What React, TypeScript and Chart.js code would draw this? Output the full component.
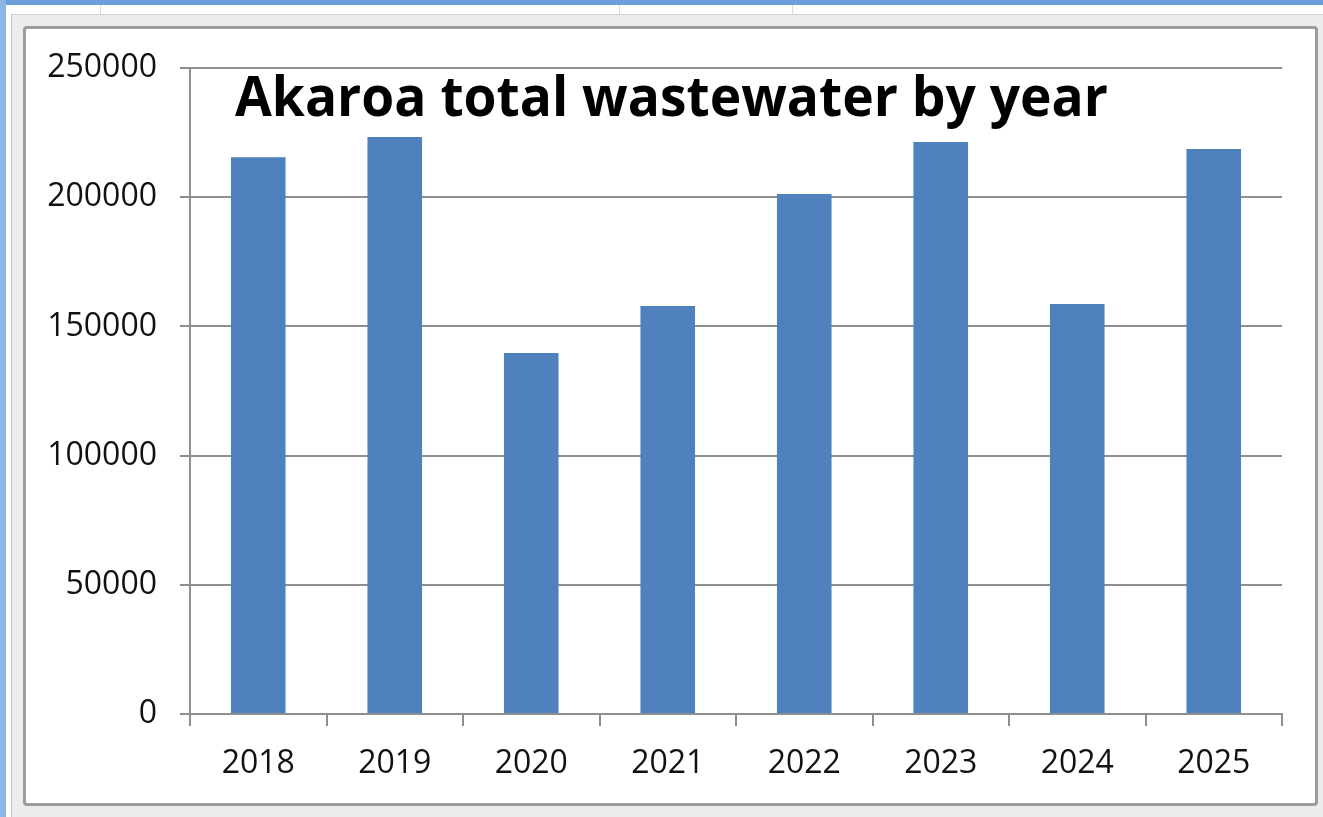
import React, { useEffect, useRef } from "react";
import { Chart, registerables } from "chart.js";

Chart.register(...registerables);

const TITLE = "Akaroa total wastewater by year";
const categories = ["2018", "2019", "2020", "2021", "2022", "2023", "2024", "2025"];
const totals = [215500, 223300, 139700, 157900, 201200, 221400, 158700, 218700];
const yMin = 0;
const yMax = 250000;
const yStep = 50000;

const W = 1323;
const H = 817;
const FONT = '"Open Sans", "Noto Sans", sans-serif';
const GRID = "#8e8e8e";

const titlePlugin = {
  id: "overlayTitle",
  afterDraw(chart: any) {
    const { ctx, chartArea } = chart;
    ctx.save();
    ctx.font = `bold 56px ${FONT}`;
    const w = ctx.measureText(TITLE).width;
    const target = 873;
    ctx.translate(chartArea.left + 45, chartArea.top + 48);
    ctx.scale(target / w, 1);
    ctx.fillStyle = "#000";
    ctx.textBaseline = "alphabetic";
    ctx.textAlign = "left";
    ctx.fillText(TITLE, 0, 0);
    ctx.restore();
  },
};

export default function App() {
  const ref = useRef<HTMLCanvasElement | null>(null);

  useEffect(() => {
    if (!ref.current) return;
    const chart = new Chart(ref.current, {
      type: "bar",
      data: {
        labels: categories,
        datasets: [
          {
            data: totals,
            backgroundColor: "#4f81bd",
            borderWidth: 0,
            barPercentage: 0.4,
            categoryPercentage: 1,
          },
        ],
      },
      options: {
        animation: false,
        responsive: false,
        devicePixelRatio: 1,
        layout: { padding: { left: 0, top: 68, right: 41, bottom: 0 } },
        plugins: {
          legend: { display: false },
          title: { display: false },
          tooltip: { enabled: false },
        },
        scales: {
          x: {
            grid: {
              display: true,
              drawOnChartArea: false,
              drawTicks: true,
              tickLength: 12,
              offset: true,
              color: GRID,
              lineWidth: 2,
            },
            border: { display: true, color: GRID, width: 2 },
            ticks: {
              font: { family: FONT, size: 32 },
              color: "#111111",
              padding: 19,
              maxRotation: 0,
            },
            afterFit(scale: any) {
              scale.height = 103;
            },
          },
          y: {
            min: yMin,
            max: yMax,
            grid: {
              color: GRID,
              lineWidth: 2,
              drawTicks: true,
              tickLength: 10,
            },
            border: { display: true, color: GRID, width: 2 },
            ticks: {
              stepSize: yStep,
              font: { family: FONT, size: 32 },
              color: "#111111",
              padding: 23,
              callback: (v: any) => String(v),
            },
            afterFit(scale: any) {
              scale.width = 190;
            },
          },
        },
      },
      plugins: [titlePlugin],
    });
    return () => chart.destroy();
  }, []);

  return (
    <div
      style={{
        position: "fixed",
        left: 0,
        top: 0,
        width: W,
        height: H,
        background: "#ffffff",
        overflow: "hidden",
      }}
    >
      <div style={{ position: "absolute", left: 0, top: 0, width: W, height: 5, background: "#6b9fdc" }} />
      <div style={{ position: "absolute", left: 0, top: 0, width: 6, height: H, background: "#8db4e6" }} />
      <div style={{ position: "absolute", left: 100, top: 5, width: 1, height: 10, background: "#dcdcdc" }} />
      <div style={{ position: "absolute", left: 619, top: 5, width: 1, height: 10, background: "#dcdcdc" }} />
      <div style={{ position: "absolute", left: 792, top: 5, width: 1, height: 10, background: "#dcdcdc" }} />
      <div
        style={{
          position: "absolute",
          left: 11,
          top: 14,
          width: W - 11,
          height: H - 14,
          background: "#ececec",
          borderTop: "1px solid #d0d0d0",
          borderLeft: "1px solid #c4c4c4",
          boxSizing: "border-box",
        }}
      />
      <div
        style={{
          position: "absolute",
          left: 23,
          top: 26,
          width: 1318 - 23,
          height: 806 - 26,
          background: "#ffffff",
          border: "3px solid #9c9c9c",
          borderRadius: 4,
          boxSizing: "border-box",
        }}
      />
      <canvas
        ref={ref}
        width={W}
        height={H}
        style={{ position: "absolute", left: 0, top: 0, width: W, height: H }}
      />
    </div>
  );
}
